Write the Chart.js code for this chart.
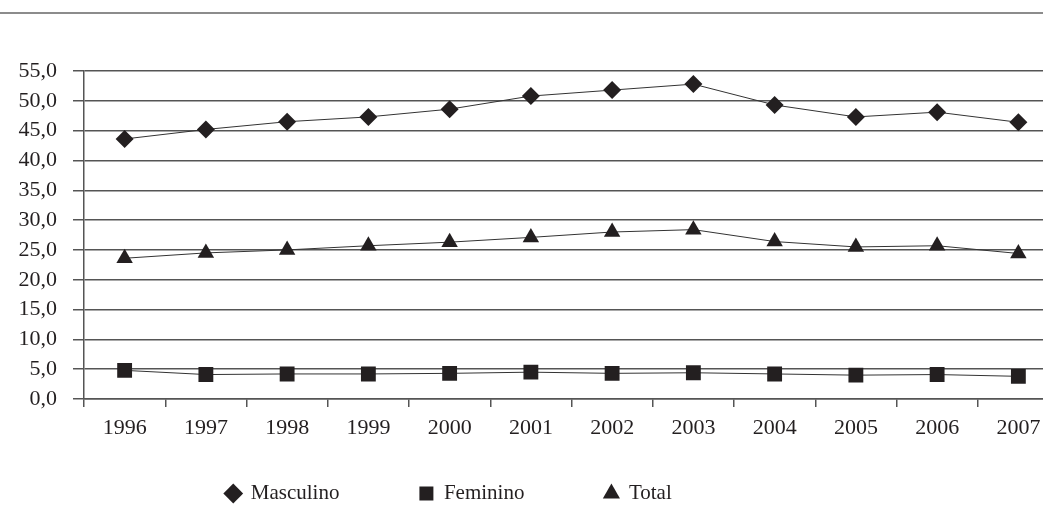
<!DOCTYPE html>
<html>
<head>
<meta charset="utf-8">
<script src="https://cdn.jsdelivr.net/npm/chart.js@4.4.1/dist/chart.umd.min.js"></script>
<style>
  html, body { margin: 0; padding: 0; background: #fff; overflow: hidden; }
  #wrap { position: relative; width: 1043px; height: 507px; overflow: hidden; }
  #topRule { position: absolute; left: 0; top: 12px; width: 1043px; height: 2px; background: #8c8c8c; }
  #chart { position: absolute; left: 0; top: 0; }
</style>
</head>
<body>
<div id="wrap">
  <div id="topRule"></div>
  <canvas id="chart" width="1075" height="507"></canvas>
</div>
<script>
const years = ["1996", "1997", "1998", "1999", "2000", "2001", "2002", "2003", "2004", "2005", "2006", "2007"];
const masculino = [43.6, 45.2, 46.5, 47.3, 48.6, 50.8, 51.8, 52.8, 49.3, 47.3, 48.1, 46.4];
const feminino = [4.8, 4.1, 4.2, 4.2, 4.3, 4.5, 4.3, 4.4, 4.2, 4.0, 4.1, 3.8];
const total = [23.6, 24.5, 25.0, 25.7, 26.3, 27.1, 28.0, 28.4, 26.4, 25.5, 25.7, 24.4];

const ink = "#231f20";
const gridColor = "#555";
const serif = "'Liberation Serif', 'Times New Roman', serif";

// the legend uses a wide item padding, so keep its box short and place it by hand
const legendShift = {
  id: "legendShift",
  afterLayout(chart) {
    const lg = chart.legend;
    lg.left = 0;
    lg.right = 898;
    lg.width = 898;
    lg.top = 403;
    lg.bottom = 507;
    lg.height = 104;
  },
};

function makeSeries(label, data, style, radius) {
  return {
    label: label,
    data: data,
    borderColor: "#333",
    borderWidth: 1,
    backgroundColor: ink,
    pointStyle: style,
    pointRadius: radius,
    pointHoverRadius: radius,
    pointBackgroundColor: ink,
    pointBorderColor: ink,
    pointBorderWidth: 0,
    tension: 0,
    fill: false,
  };
}

const ctx = document.getElementById("chart").getContext("2d");
new Chart(ctx, {
  type: "line",
  data: {
    labels: years,
    datasets: [
      makeSeries("Masculino", masculino, "rectRot", 9),
      makeSeries("Feminino", feminino, "rect", 10.5),
      makeSeries("Total", total, "triangle", 9.5),
    ],
  },
  options: {
    responsive: false,
    animation: false,
    layout: { padding: { top: 71, right: 16, bottom: 5, left: 0 } },
    plugins: {
      tooltip: { enabled: false },
      legend: {
        position: "bottom",
        maxHeight: 40,
        labels: {
          usePointStyle: true,
          boxHeight: 14,
          boxWidth: 14,
          padding: 80,
          color: ink,
          font: { family: serif, size: 21 },
        },
      },
    },
    scales: {
      x: {
        offset: true,
        grid: {
          offset: true,
          drawOnChartArea: false,
          drawTicks: true,
          tickLength: 8,
          color: gridColor,
          lineWidth: 1.5,
        },
        border: { display: true, color: gridColor, width: 1.5 },
        ticks: {
          autoSkip: false,
          color: ink,
          padding: 8,
          maxRotation: 0,
          font: { family: serif, size: 22 },
        },
        afterFit(scale) {
          scale.height = 63;
        },
      },
      y: {
        min: 0,
        max: 55,
        grid: {
          color: gridColor,
          lineWidth: 1.5,
          drawTicks: true,
          tickLength: 11,
        },
        border: { display: true, color: gridColor, width: 1.5 },
        ticks: {
          autoSkip: false,
          stepSize: 5,
          color: ink,
          padding: 16,
          font: { family: serif, size: 22 },
          callback: (v) => v.toFixed(1).replace(".", ","),
        },
        afterFit(scale) {
          scale.width = 84;
        },
      },
    },
  },
  plugins: [legendShift],
});
</script>
</body>
</html>
